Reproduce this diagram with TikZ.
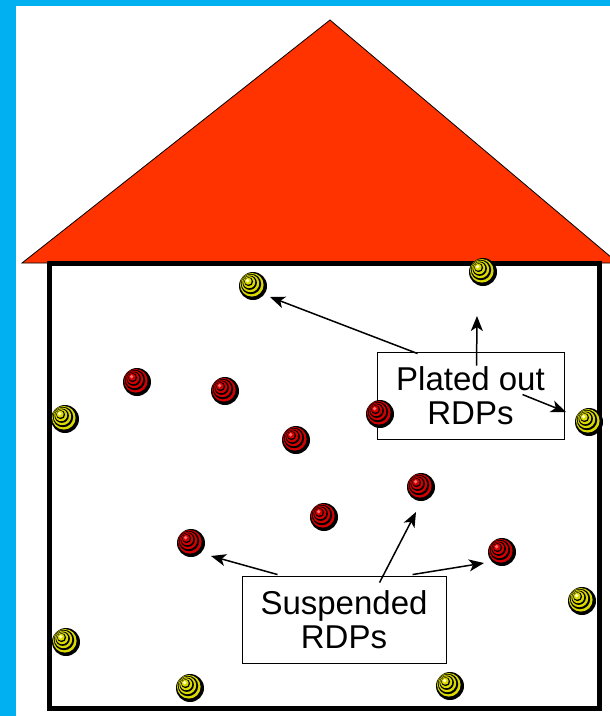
\documentclass[tikz,border=0pt]{standalone}
\usepackage{fontspec}
\setmainfont{Liberation Sans}
\usetikzlibrary{arrows.meta,calc}

\definecolor{frameblue}{RGB}{0,176,240}
\definecolor{roofred}{RGB}{255,51,0}
\definecolor{rdpyellow}{RGB}{218,218,0}
\definecolor{rdpyellowhi}{RGB}{255,255,200}
\definecolor{rdpred}{RGB}{210,0,0}
\definecolor{rdpredhi}{RGB}{255,110,110}

\tikzset{
  % a radioactive particle: dark sphere with eccentric coloured rings
  rdp/.style 2 args={circle, minimum size=28pt, inner sep=0pt, fill=black,
    path picture={
      \foreach \rr/\oo/\cc in {11.8/1.2/#1, 10.2/2.0/black, 8.8/2.6/#1,
                               7.2/3.3/black, 6.0/3.8/#1, 4.5/4.4/black, 3.5/4.8/#1}
        \fill[fill=\cc] ($(path picture bounding box.center)+(-\oo pt,\oo pt)$) circle (\rr pt);
      \fill[fill=#2] ($(path picture bounding box.center)+(-5.4pt,5.4pt)$) circle (1.9pt);
    }},
  yrdp/.style={rdp={rdpyellow}{rdpyellowhi}},
  rrdp/.style={rdp={rdpred}{rdpredhi}},
  labelbox/.style={draw=black, line width=0.9pt, fill=white, align=center,
    inner sep=0pt, font=\fontsize{33}{34}\selectfont},
  conn/.style={-{Stealth[length=15pt,width=12pt,inset=4pt]}, line width=1.5pt},
}

\begin{document}
\begin{tikzpicture}[x=1pt,y=-1pt]
  \useasboundingbox (0,0) rectangle (610,716);
  \clip (0,0) rectangle (610,716);
  \fill[white] (0,0) rectangle (610,716);

  % blue frame strips
  \fill[frameblue] (0,0) rectangle (610,6);
  \fill[frameblue] (0,0) rectangle (16,716);

  % roof
  \filldraw[fill=roofred, draw=black, line width=0.8pt]
    (330,20) -- (618,263) -- (22,263) -- cycle;

  % walls
  \draw[line width=5pt] (49,263) rectangle (599,708);

  % labels
  \node[labelbox, minimum width=187pt, minimum height=87pt] (plated)
    at (470.5,395.5) {Plated out\\RDPs};
  \node[labelbox, minimum width=204pt, minimum height=87pt] (susp)
    at (344,619.5) {Suspended\\RDPs};

  % arrow ends
  \coordinate (pa1) at ($(plated.north west)+(41,2)$);
  \coordinate (pa2) at ($(plated.north west)+(100,14)$);
  \coordinate (pa3) at ($(plated.north west)+(146,43)$);
  \coordinate (sb1) at ($(susp.north west)+(36,-1)$);
  \coordinate (sb2) at ($(susp.north west)+(138,7)$);
  \coordinate (sb3) at ($(susp.north west)+(171,-1)$);

  % particles: plated out (yellow)
  \node[yrdp] (y1) at (253,286) {};
  \node[yrdp] (y2) at (483,272) {};
  \node[yrdp] (y3) at (65,419) {};
  \node[yrdp] (y4) at (589,422) {};
  \node[yrdp] (y5) at (66,642) {};
  \node[yrdp] (y6) at (582,601) {};
  \node[yrdp] (y7) at (190,688) {};
  \node[yrdp] (y8) at (450,686) {};

  % particles: suspended (red)
  \node[rrdp] (r1) at (137,382) {};
  \node[rrdp] (r2) at (225,391) {};
  \node[rrdp] (r3) at (380,414) {};
  \node[rrdp] (r4) at (296,440) {};
  \node[rrdp] (r5) at (421,487) {};
  \node[rrdp] (r6) at (324,517) {};
  \node[rrdp] (r7) at (191,543) {};
  \node[rrdp] (r8) at (502,552) {};

  % arrow tips, just short of the particles
  \coordinate (ta1) at ($(y1)+(17,11)$);
  \coordinate (ta2) at ($(y2)+(-6,44)$);
  \coordinate (ta3) at ($(y4)+(-23,-10)$);
  \coordinate (tb1) at ($(r7)+(20,13)$);
  \coordinate (tb2) at ($(r5)+(-5,25)$);
  \coordinate (tb3) at ($(r8)+(-18,11)$);

  \draw[conn] (pa1) -- (ta1);
  \draw[conn] (pa2) -- (ta2);
  \draw[conn] (pa3) -- (ta3);
  \draw[conn] (sb1) -- (tb1);
  \draw[conn] (sb2) -- (tb2);
  \draw[conn] (sb3) -- (tb3);
\end{tikzpicture}
\end{document}
